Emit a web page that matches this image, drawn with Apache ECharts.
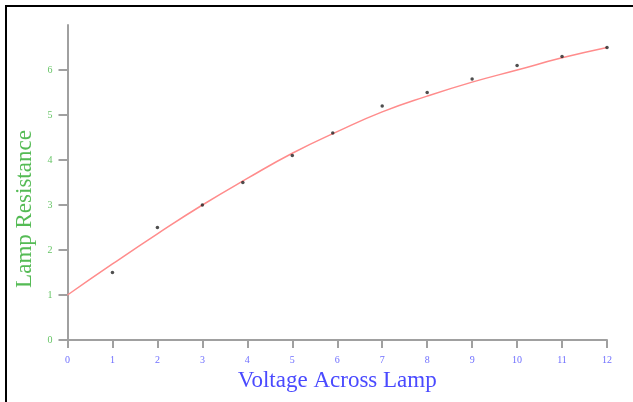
<!DOCTYPE html>
<html>
<head>
<meta charset="utf-8">
<script src="https://cdn.jsdelivr.net/npm/echarts@6/dist/echarts.min.js"></script>
<style>
  html, body { margin:0; padding:0; background:#fff; }
  #chart { position:absolute; left:0; top:0; width:633px; height:402px; }
  #frame { position:absolute; left:5px; top:5px; width:700px; height:500px;
           border-top:2px solid #000; border-left:2px solid #000; pointer-events:none; }
</style>
</head>
<body>
<div id="chart"></div>
<div id="frame"></div>
<script>
// Data
var xTicks = [0, 1, 2, 3, 4, 5, 6, 7, 8, 9, 10, 11, 12];
var yTicks = [0, 1, 2, 3, 4, 5, 6];
var pointVoltage = [1, 2, 3, 3.9, 5, 5.9, 7, 8, 9, 10, 11, 12];
var pointResistance = [1.5, 2.5, 3.0, 3.5, 4.1, 4.6, 5.2, 5.5, 5.8, 6.1, 6.3, 6.5];
var curveVoltage = [0, 1, 2, 3, 4, 5, 6, 7, 8, 9, 10, 11, 12];
var curveResistance = [1.0, 1.69, 2.36, 3.0, 3.59, 4.15, 4.63, 5.07, 5.42, 5.73, 6.0, 6.27, 6.5];
var xTitle = 'Voltage Across Lamp';
var yTitle = 'Lamp Resistance';

var chart = echarts.init(document.getElementById('chart'), null, {renderer:'canvas'});
var axisGray = '#a0a0a0';
var serif = '"Liberation Serif", "DejaVu Serif", serif';

chart.setOption({
  animation: false,
  backgroundColor: '#fff',
  grid: { left: 67.5, right: 26, top: 25, bottom: 62, containLabel: false },
  xAxis: {
    type: 'value', min: 0, max: 12, interval: 1,
    axisLine: { show: true, lineStyle: { color: axisGray, width: 2 } },
    axisTick: { show: true, length: 8, lineStyle: { color: axisGray, width: 2 } },
    splitLine: { show: false },
    axisLabel: { color: '#6f6fff', fontFamily: serif, fontSize: 10, margin: 15,
                 customValues: xTicks },
    name: xTitle, nameLocation: 'middle', nameGap: 27,
    nameTextStyle: { color: '#4a4aff', fontFamily: serif, fontSize: 23 }
  },
  yAxis: {
    type: 'value', min: 0, max: 7, interval: 1,
    axisLine: { show: true, lineStyle: { color: axisGray, width: 2 } },
    axisTick: { show: true, length: 9, lineStyle: { color: axisGray, width: 2 },
                customValues: yTicks },
    splitLine: { show: false },
    axisLabel: { color: '#66c466', fontFamily: serif, fontSize: 10, margin: 15,
                 customValues: yTicks }
  },
  graphic: [{
    type: 'text', x: 25, y: 209, rotation: Math.PI / 2,
    style: { text: yTitle, fill: '#55bb55', font: '23px ' + serif,
             align: 'center', verticalAlign: 'middle' }
  }],
  series: [{
    type: 'line', smooth: 0.5, showSymbol: false,
    data: curveVoltage.map(function (v, i) { return [v, curveResistance[i]]; }),
    lineStyle: { color: '#ff8c8c', width: 1.5 },
    z: 2
  }, {
    type: 'scatter', symbol: 'circle', symbolSize: 3.5,
    data: pointVoltage.map(function (v, i) { return [v, pointResistance[i]]; }),
    itemStyle: { color: '#222' },
    z: 3
  }]
});
</script>
</body>
</html>
